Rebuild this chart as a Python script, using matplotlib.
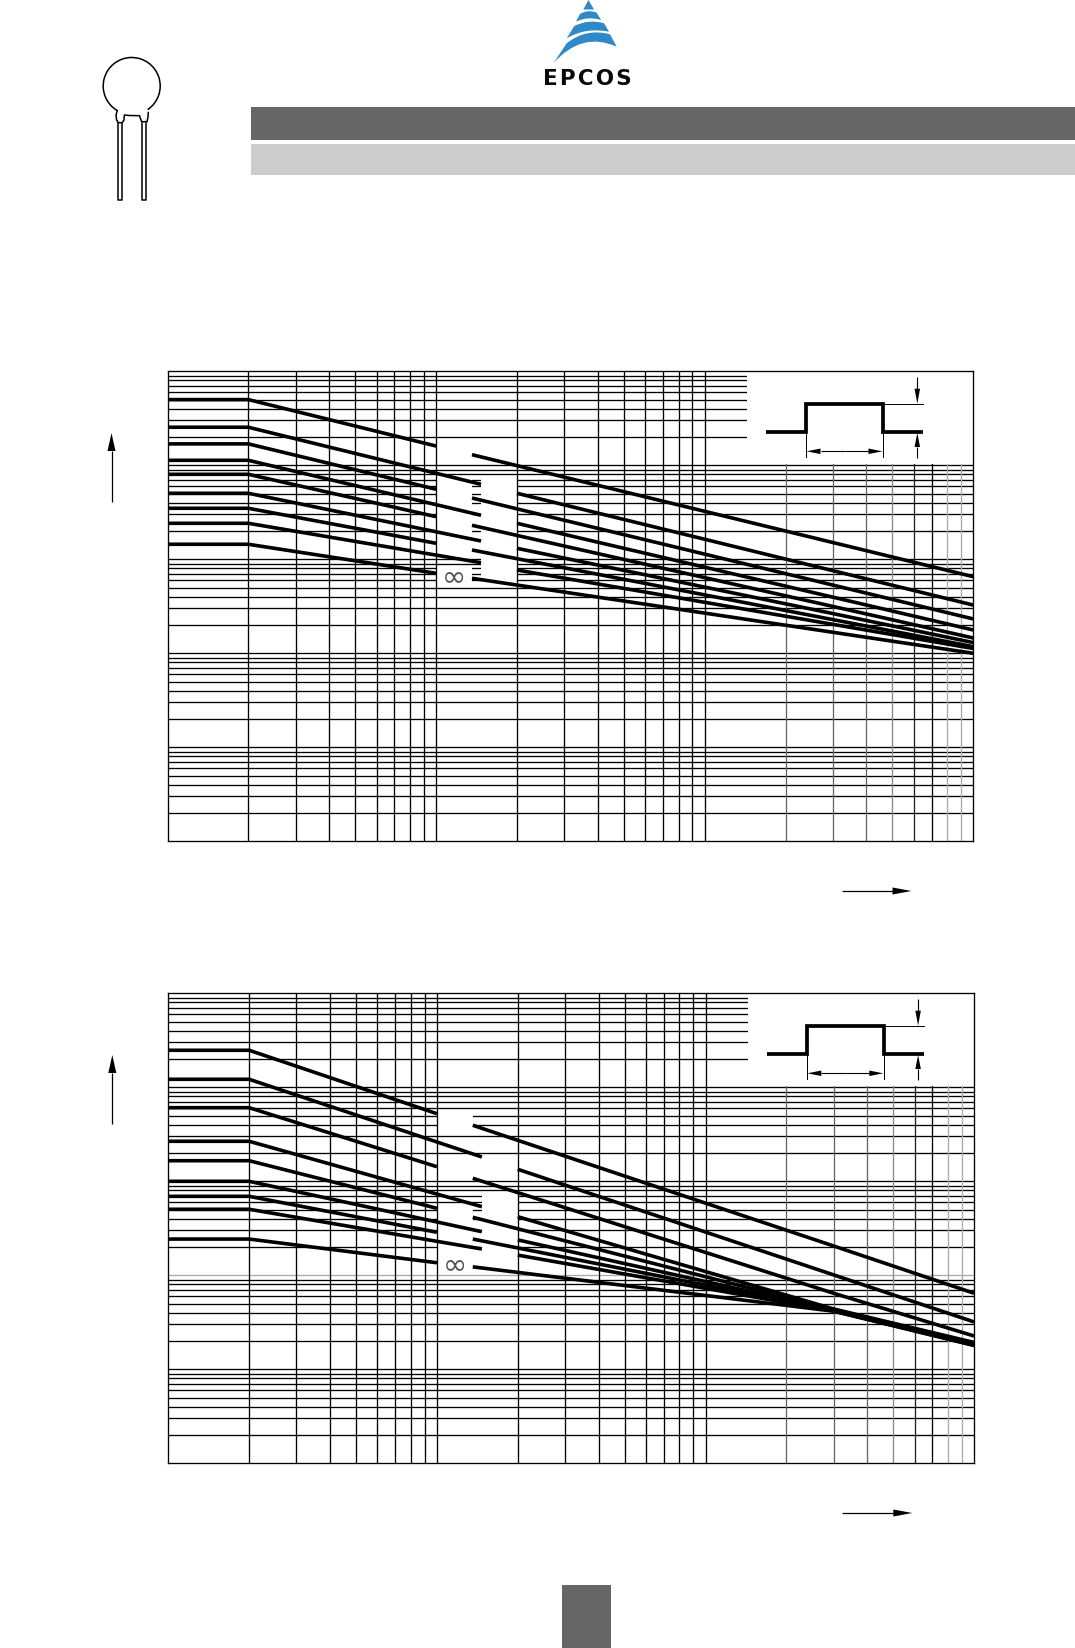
import matplotlib
matplotlib.use('Agg')
import matplotlib.pyplot as plt
from matplotlib.patches import Arc, PathPatch, Polygon, Rectangle
from matplotlib.path import Path

W, H = 1075, 1648

# curve readings, amps at pulse width t (us). curves 1,3,5,7,9 break at 100-136, 2,4,6,8 at 147-200
gap_odd = [100, 136]
gap_even = [147, 200]

top_plateau = [50000, 25400, 16900, 11300, 8020, 5040, 3490, 2415, 1445]
top_gap_in = [16030, 6280, 5560, 2940, 2840, 1566, 1480, 920, 710]
top_gap_out = [12970, 5040, 4490, 2415, 2300, 1309, 1256, 769, 628]
top_tail_t = [10000]
top_tail = [[653], [326], [232], [177], [145.5], [130], [117.5], [112.5], [100]]

bot_plateau = [24770, 12170, 6070, 2665, 1656, 1000, 692, 504, 243]
bot_gap_in = [5240, 1815, 1430, 537, 516, 291, 287, 190.5, 136]
bot_gap_out = [3945, 1342, 1077, 420, 414, 238, 243, 164, 123]
bot_tail_t = [3000, 10000]
bot_tail = [[205, 64.4], [101, 31.9], [64.4, 22.6], [43.8, 19.3], [43.3, 18.8],
            [42.8, 18.6], [42.2, 18.4], [41.7, 18.1], [41.5, 17.9]]

# log grid levels
x_dark = [20, 30, 40, 50, 60, 70, 80, 90, 100, 200, 300, 400, 500, 600, 700, 800, 900, 1000]
x_faded = [2000, 3000, 4000, 5000, 6000, 7000, 8000, 9000]
x_faded_colors = ['#666666', '#666666', '#666666', '#888888', '#222222', 'k', '#aaaaaa', '#aaaaaa']
y_levels = [m * 10 ** k for k in range(5) for m in range(1, 10)][1:]

grid_lw = 0.95
curve_lw = 2.6
ink = 'k'

fig = plt.figure(figsize=(W / 100, H / 100), dpi=100)


def make_axes(left, right, ytop, ybot):
    ax = fig.add_axes([left / W, 1 - ybot / H, (right - left) / W, (ybot - ytop) / H])
    ax.set_xscale('log')
    ax.set_yscale('log')
    ax.set_xlim(10, 10000)
    ax.set_ylim(1, 100000)
    ax.tick_params(which='both', length=0, labelbottom=False, labelleft=False)
    for s in ax.spines.values():
        s.set_linewidth(0.95)
    return ax


def draw_grid(ax, masks, grey_level=None):
    ax.hlines(y_levels, 10, 10000, colors=['#aaaaaa' if v == grey_level else ink for v in y_levels],
              lw=grid_lw, zorder=1)
    ax.vlines(x_faded, 1, 100000, colors=x_faded_colors, lw=grid_lw, zorder=1.5)
    for x0, x1, y0, y1 in masks:
        ax.add_patch(Rectangle((x0, y0), x1 - x0, y1 - y0, fc='white', ec='none', zorder=2))
    ax.vlines(x_dark, 1, 100000, colors='k', lw=grid_lw, zorder=3)


def draw_curves(ax, plateau, gap_in, gap_out, tail_t, tail):
    for i in range(len(plateau)):
        t0, t1 = gap_odd if i % 2 == 0 else gap_even
        ax.plot([10, 20, t0], [plateau[i], plateau[i], gap_in[i]], color=ink, lw=curve_lw,
                solid_capstyle='butt', zorder=4)
        ax.plot([t1] + tail_t, [gap_out[i]] + tail[i], color=ink, lw=curve_lw,
                solid_capstyle='butt', zorder=4)


ax1 = make_axes(167.5, 973.3, 371.3, 841.3)
draw_grid(ax1, [(100, 136, 1084, 7690), (100, 136, 536, 847), (147, 200, 536, 7690),
                (1437, 10000, 10400, 100000)])
draw_curves(ax1, top_plateau, top_gap_in, top_gap_out, top_tail_t, top_tail)

ax2 = make_axes(168.3, 974.1, 993.3, 1463.3)
draw_grid(ax2, [(100, 136, 3690, 5596), (100, 136, 108, 573), (147, 200, 108, 750),
                (1437, 10000, 10400, 100000)], grey_level=100)
draw_curves(ax2, bot_plateau, bot_gap_in, bot_gap_out, bot_tail_t, bot_tail)

# page furniture in pixel coordinates
pg = fig.add_axes([0, 0, 1, 1], zorder=10)
pg.set_xlim(0, W)
pg.set_ylim(H, 0)
pg.axis('off')
pg.patch.set_alpha(0)

pg.add_patch(Rectangle((251, 106.5), W - 251, 33.5, fc='#666666', ec='none'))
pg.add_patch(Rectangle((251, 143.5), W - 251, 31.5, fc='#cccccc', ec='none'))
pg.add_patch(Rectangle((562, 1584.5), 48.5, 63.5, fc='#666666', ec='none'))


def arrow(x0, y0, x1, y1, length, width, lw=0.8):
    # line from 0 to 1 with a solid head at 1
    d = ((x1 - x0) ** 2 + (y1 - y0) ** 2) ** 0.5
    ux, uy = (x1 - x0) / d, (y1 - y0) / d
    bx, by = x1 - ux * length, y1 - uy * length
    pg.plot([x0, bx], [y0, by], color=ink, lw=lw, solid_capstyle='butt')
    pg.add_patch(Polygon([(x1, y1), (bx - uy * width / 2, by + ux * width / 2),
                          (bx + uy * width / 2, by - ux * width / 2)], fc=ink, ec='none'))


def pulse(dx, dy):
    pg.plot([766 + dx, 805.7 + dx, 805.7 + dx, 883.3 + dx, 883.3 + dx, 922.7 + dx],
            [431.7 + dy, 431.7 + dy, 403.7 + dy, 403.7 + dy, 431.7 + dy, 431.7 + dy],
            color=ink, lw=2.7, solid_joinstyle='miter', solid_capstyle='butt')
    pg.plot([883.3 + dx, 922.7 + dx], [403.7 + dy, 403.7 + dy], color=ink, lw=0.7)
    pg.plot([805.7 + dx, 805.7 + dx], [431.7 + dy, 457 + dy], color=ink, lw=0.7)
    pg.plot([883.3 + dx, 883.3 + dx], [431.7 + dy, 457 + dy], color=ink, lw=0.7)
    arrow(917.3 + dx, 377 + dy, 917.3 + dx, 403.7 + dy, 15, 5.5, 0.8)
    arrow(917.3 + dx, 457.7 + dy, 917.3 + dx, 433 + dy, 14, 5.5, 0.8)
    arrow(845 + dx, 451.3 + dy, 806.5 + dx, 451.3 + dy, 14, 5.5, 0.8)
    arrow(845 + dx, 451.3 + dy, 882.5 + dx, 451.3 + dy, 14, 5.5, 0.8)


for dx, dy in [(0, 0), (0.8, 622)]:
    pulse(dx, dy)
    arrow(111.5 + dx, 502 + dy, 111.5 + dx, 433 + dy, 18, 8, 0.9)
    arrow(841.5 + dx, 891 + dy, 911.5 + dx, 891 + dy, 19, 7, 0.9)

for x, y in [(454.4, 577.5), (455.2, 1265.5)]:
    pg.text(x, y, '\u221e', family=['DejaVu Sans'], fontsize=21, color='#555555',
            ha='center', va='center')

# disc varistor symbol
pg.add_patch(Arc((131.7, 86), 57, 57, theta1=120, theta2=416, color=ink, lw=1.1))
pg.plot([117.2, 116, 116.6, 118.3, 122.3, 124, 124.3, 129, 139.5, 140.4, 141.7, 147, 148, 148.3],
        [110.7, 115, 120, 122.7, 122.7, 120, 115, 115.5, 115.7, 118.5, 121.7, 121.7, 117, 112.5],
        color=ink, lw=1.1)
for x0, x1 in [(117.8, 122.2), (141.8, 146)]:
    pg.plot([x0, x0, x1, x1], [122.5, 200, 200, 122.5], color=ink, lw=1.1, solid_joinstyle='round')

# EPCOS mark
blue = '#2f88c8'
M, L, C = Path.MOVETO, Path.LINETO, Path.CURVE3
bands = [
    ([(588.5, 0), (594, 9.5), (583.3, 9.5), (588.5, 0)], [M, L, L, L]),
    ([(576, 21.7), (580, 14), (588, 9), (596.7, 12.7), (601, 20), (588, 15.8), (576, 21.7)], [M, L, C, C, L, C, C]),
    ([(566.7, 38.3), (574.3, 26), (589, 18.7), (604, 23.3), (609, 31.7), (586, 27), (566.7, 38.3)], [M, L, C, C, L, C, C]),
    ([(553.3, 63.3), (566.7, 43.3), (586, 27.8), (610, 34.3), (616.7, 46.7), (582, 31), (553.3, 63.3)], [M, L, C, C, L, C, C]),
]
for verts, codes in bands:
    pg.add_patch(PathPatch(Path(verts, codes), fc=blue, ec='none'))
pg.text(587.5, 84.5, 'E\u200aP\u200aC\u200aO\u200aS', family=['DejaVu Sans'], fontweight='bold', fontsize=15.5,
        color='#0a0a0a', ha='center', va='baseline')

fig.savefig('out.png', dpi=100, facecolor='white')
